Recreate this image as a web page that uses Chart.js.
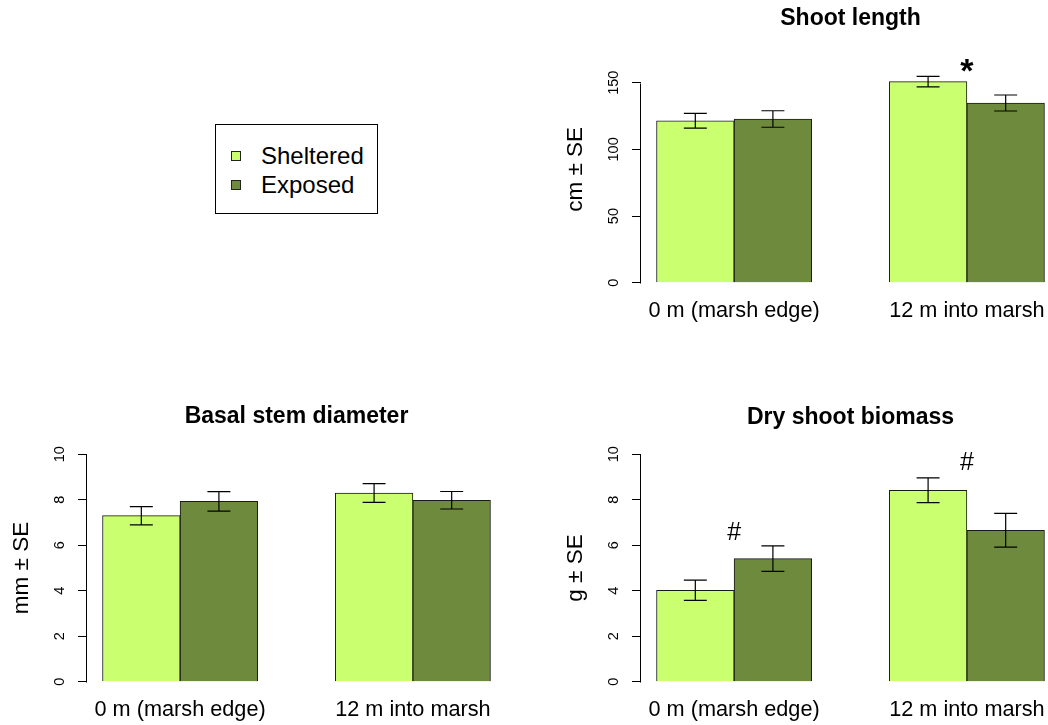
<!DOCTYPE html>
<html>
<head>
  <meta charset="utf-8">
  <title>Sheltered vs exposed shoots</title>
  <script src="https://cdn.jsdelivr.net/npm/chart.js"></script>
  <style>
    html, body { margin: 0; padding: 0; background: #fff; }
    body {
      position: relative;
      width: 1048px;
      height: 725px;
      overflow: hidden;
      font-family: 'Liberation Sans', Arial, sans-serif;
    }
    canvas { position: absolute; }
    .legend {
      position: absolute;
      left: 215px;
      top: 124px;
      width: 163px;
      height: 90px;
      box-sizing: border-box;
      border: 1px solid #000;
      padding-top: 16px;
    }
    .legend .row { display: flex; align-items: center; height: 29px; font-size: 24px; color: #000; }
    .legend .swatch { width: 8px; height: 8px; border: 1px solid #222; margin-left: 15px; margin-right: 20px; }
  </style>
</head>
<body>
  <div class="legend" id="legend"></div>
  <canvas id="shoot"></canvas>
  <canvas id="basal"></canvas>
  <canvas id="biomass"></canvas>

  <script>
    // groups on the x axis (R barplot puts the group centres at 2 and 5)
    var categories = ['0 m (marsh edge)', '12 m into marsh'];
    var groupCenters = [2, 5];
    var seriesNames = ['Sheltered', 'Exposed'];
    var seriesColors = ['#CAFF70', '#6E8B3D'];

    // Shoot length (cm)
    var shootSheltered = [121.5, 150.8];
    var shootExposed = [122.8, 134.8];
    var shootShelteredSE = [5.5, 3.9];
    var shootExposedSE = [6.2, 6.0];
    var shootTicks = [0, 50, 100, 150];
    var shootLimit = 170;
    var shootMarks = [{ x: 5, y: 157.4, text: '*' }];

    // Basal stem diameter (mm)
    var basalSheltered = [7.30, 8.30];
    var basalExposed = [7.93, 7.98];
    var basalShelteredSE = [0.40, 0.41];
    var basalExposedSE = [0.43, 0.385];
    var basalTicks = [0, 2, 4, 6, 8, 10];
    var basalLimit = 10;
    var basalMarks = [];

    // Dry shoot biomass (g)
    var biomassSheltered = [4.02, 8.42];
    var biomassExposed = [5.41, 6.66];
    var biomassShelteredSE = [0.445, 0.545];
    var biomassExposedSE = [0.56, 0.74];
    var biomassTicks = [0, 2, 4, 6, 8, 10];
    var biomassLimit = 10;
    var biomassMarks = [{ x: 2, y: 6.53, text: '#' }, { x: 5, y: 9.6, text: '#' }];

    var FONT = "'Liberation Sans', Arial, sans-serif";
    Chart.defaults.font.family = FONT;
    Chart.defaults.color = '#000';

    var capHalf = 0.148;   // half width of the error bar caps, in bar units
    var axisWidth = 87;    // room left of the plot for tick labels and axis title

    // legend (top left panel)
    var legend = document.getElementById('legend');
    seriesNames.forEach(function(name, i) {
      var row = document.createElement('div');
      row.className = 'row';
      row.innerHTML = '<span class="swatch" style="background:' + seriesColors[i] + '"></span>' + name;
      legend.appendChild(row);
    });

    function textWidth(text, size) {
      var c = document.createElement('canvas').getContext('2d');
      c.font = size + 'px ' + FONT;
      return c.measureText(text).width;
    }

    // error bars
    var errorBars = {
      id: 'errorBars',
      afterDatasetsDraw: function(chart) {
        var ctx = chart.ctx, xs = chart.scales.x, ys = chart.scales.y;
        ctx.save();
        ctx.strokeStyle = '#000';
        ctx.lineWidth = 1.2;
        chart.data.datasets.forEach(function(ds) {
          ds.data.forEach(function(pt, j) {
            var se = ds.se[j];
            var cx = xs.getPixelForValue(pt.x);
            var w = xs.getPixelForValue(pt.x + capHalf) - cx;
            var yt = ys.getPixelForValue(pt.y + se);
            var yb = ys.getPixelForValue(pt.y - se);
            ctx.beginPath();
            ctx.moveTo(cx, yt); ctx.lineTo(cx, yb);
            ctx.moveTo(cx - w, yt); ctx.lineTo(cx + w, yt);
            ctx.moveTo(cx - w, yb); ctx.lineTo(cx + w, yb);
            ctx.stroke();
          });
        });
        ctx.restore();
      }
    };

    // R style y axis line: only from first to last tick
    var rAxis = {
      id: 'rAxis',
      afterDraw: function(chart) {
        var ys = chart.scales.y, ctx = chart.ctx;
        var t = ys.ticks;
        var x0 = Math.round(chart.chartArea.left) - 0.5;
        ctx.save();
        ctx.strokeStyle = '#000';
        ctx.lineWidth = 1;
        ctx.beginPath();
        ctx.moveTo(x0, Math.round(ys.getPixelForValue(t[0].value)) + 0.5);
        ctx.lineTo(x0, Math.round(ys.getPixelForValue(t[t.length - 1].value)) + 0.5);
        ctx.stroke();
        ctx.restore();
      }
    };

    // significance marks (* and #)
    var marksPlugin = {
      id: 'marks',
      afterDraw: function(chart) {
        var marks = chart.options.plugins.marks.items || [];
        var ctx = chart.ctx, xs = chart.scales.x, ys = chart.scales.y;
        ctx.save();
        ctx.fillStyle = '#000';
        ctx.textAlign = 'center';
        ctx.textBaseline = 'middle';
        marks.forEach(function(m) {
          ctx.font = m.text === '*' ? 'bold 34px ' + FONT : '25px ' + FONT;
          ctx.fillText(m.text, xs.getPixelForValue(m.x), ys.getPixelForValue(m.y));
        });
        ctx.restore();
      }
    };

    function makePanel(p, sheltered, exposed, shelteredSE, exposedSE, yTicks, yLimit, marks) {
      var canvas = document.getElementById(p.id);
      canvas.width = p.width;
      canvas.height = p.height;
      canvas.style.left = p.left + 'px';
      canvas.style.top = p.top + 'px';

      var titleLine = 23 * 1.2;
      var titleBox = p.areaTop - p.top;
      var titlePadTop = p.titleY - p.top - titleLine / 2;
      var xAxisHeight = p.top + p.height - p.areaBottom;

      var widest = Math.max.apply(null, yTicks.map(function(v) { return textWidth(String(v), 14.5); }));
      var tickPad = 27.5 - 9 - widest / 2;

      return new Chart(canvas, {
        type: 'bar',
        data: {
          datasets: [{
            label: seriesNames[0],
            data: sheltered.map(function(v, i) { return { x: groupCenters[i] - 0.5, y: v }; }),
            se: shelteredSE,
            backgroundColor: seriesColors[0],
            borderColor: '#1a1a1a',
            borderWidth: 1,
            grouped: false,
            categoryPercentage: 1,
            barPercentage: 1
          }, {
            label: seriesNames[1],
            data: exposed.map(function(v, i) { return { x: groupCenters[i] + 0.5, y: v }; }),
            se: exposedSE,
            backgroundColor: seriesColors[1],
            borderColor: '#1a1a1a',
            borderWidth: 1,
            grouped: false,
            categoryPercentage: 1,
            barPercentage: 1
          }]
        },
        options: {
          responsive: false,
          animation: false,
          layout: { padding: 0 },
          plugins: {
            legend: { display: false },
            tooltip: { enabled: false },
            title: {
              display: true,
              text: p.title,
              fullSize: false,
              color: '#000',
              font: { size: 23, weight: 'bold' },
              padding: { top: titlePadTop, bottom: titleBox - titleLine - titlePadTop }
            },
            marks: { items: marks }
          },
          scales: {
            x: {
              type: 'linear',
              min: 0.8,
              max: 6.2,
              offset: false,
              afterBuildTicks: function(s) { s.ticks = groupCenters.map(function(v) { return { value: v }; }); },
              afterFit: function(s) { s.height = xAxisHeight; },
              grid: { display: false, drawTicks: false, offset: false },
              border: { display: false },
              ticks: {
                autoSkip: false,
                maxRotation: 0,
                padding: 6.5,
                color: '#000',
                font: { size: 21.7 },
                callback: function(v, i) { return categories[i]; }
              }
            },
            y: {
              min: -0.04 * yLimit,
              max: 1.04 * yLimit,
              afterBuildTicks: function(s) { s.ticks = yTicks.map(function(v) { return { value: v }; }); },
              afterFit: function(s) { s.width = axisWidth; },
              grid: { drawOnChartArea: false, drawTicks: true, tickLength: 9, color: '#000', lineWidth: 1 },
              border: { display: false },
              ticks: {
                minRotation: 90,
                maxRotation: 90,
                crossAlign: 'center',
                padding: tickPad,
                color: '#000',
                font: { size: 14.5 }
              },
              title: {
                display: true,
                text: p.yTitle,
                color: '#000',
                font: { size: 22.5 },
                padding: { top: 7.9, bottom: 0 }
              }
            }
          }
        },
        plugins: [errorBars, rAxis, marksPlugin]
      });
    }

    makePanel({ id: 'shoot', title: 'Shoot length', yTitle: 'cm \u00b1 SE',
                left: 554, top: 0, width: 506, height: 340,
                areaTop: 47.0, areaBottom: 291.8, titleY: 19 },
              shootSheltered, shootExposed, shootShelteredSE, shootExposedSE,
              shootTicks, shootLimit, shootMarks);

    makePanel({ id: 'basal', title: 'Basal stem diameter', yTitle: 'mm \u00b1 SE',
                left: 0, top: 390, width: 506, height: 335,
                areaTop: 445.2, areaBottom: 690.8, titleY: 417 },
              basalSheltered, basalExposed, basalShelteredSE, basalExposedSE,
              basalTicks, basalLimit, basalMarks);

    makePanel({ id: 'biomass', title: 'Dry shoot biomass', yTitle: 'g \u00b1 SE',
                left: 554, top: 390, width: 506, height: 335,
                areaTop: 445.2, areaBottom: 690.8, titleY: 418 },
              biomassSheltered, biomassExposed, biomassShelteredSE, biomassExposedSE,
              biomassTicks, biomassLimit, biomassMarks);
  </script>
</body>
</html>
